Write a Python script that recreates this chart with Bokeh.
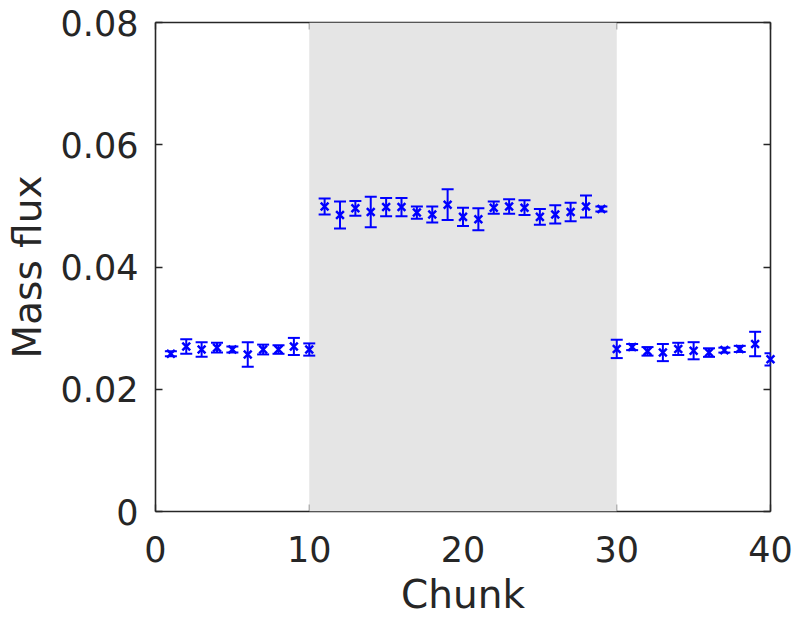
from bokeh.plotting import figure
from bokeh.models import (ColumnDataSource, Whisker, TeeHead, BoxAnnotation, LinearAxis,
                          FixedTicker, Range1d)
from bokeh.embed import file_html
from bokeh.resources import INLINE

chunk = list(range(1, 41))
flux = [0.0258, 0.0270, 0.0265, 0.0268, 0.0265, 0.0257, 0.0265, 0.0265, 0.0270, 0.0265,
        0.0499, 0.0485, 0.0496, 0.0490, 0.0498, 0.0498, 0.0489, 0.0486, 0.0502, 0.0482,
        0.0478, 0.0497, 0.0499, 0.0497, 0.0482, 0.0486, 0.0490, 0.0499, 0.0495,
        0.0266, 0.0269, 0.0262, 0.0260, 0.0266, 0.0263, 0.0260, 0.0264, 0.0266, 0.0274, 0.0249]
err = [0.0004, 0.0012, 0.0012, 0.0008, 0.0005, 0.0020, 0.0008, 0.0007, 0.0014, 0.0010,
       0.0013, 0.0022, 0.0012, 0.0025, 0.0015, 0.0015, 0.0010, 0.0013, 0.0025, 0.0015,
       0.0018, 0.0010, 0.0012, 0.0012, 0.0013, 0.0015, 0.0015, 0.0018, 0.0004,
       0.0015, 0.0005, 0.0007, 0.0014, 0.0010, 0.0014, 0.0007, 0.0004, 0.0005, 0.0020, 0.0010]
shade_start, shade_end = 10, 30
x_ticks = [0, 10, 20, 30, 40]
y_ticks = [0, 0.02, 0.04, 0.06, 0.08]
y_tick_labels = ["0", "0.02", "0.04", "0.06", "0.08"]

src = ColumnDataSource(dict(x=chunk, y=flux,
                            lo=[f - e for f, e in zip(flux, err)],
                            hi=[f + e for f, e in zip(flux, err)]))

FONT = "DejaVu Sans"
TXT = "#262626"

p = figure(width=795, height=619, output_backend="svg", toolbar_location=None,
           x_range=Range1d(0, 40), y_range=Range1d(0, 0.08),
           min_border_left=155, min_border_right=25, min_border_top=22, min_border_bottom=106)
p.outline_line_color = None
p.xgrid.visible = False
p.ygrid.visible = False
p.background_fill_color = "white"
p.border_fill_color = "white"

def style(ax):
    ax.axis_line_color = TXT
    ax.axis_line_width = 1.6
    ax.major_tick_in = 7
    ax.major_tick_out = 0
    ax.minor_tick_in = 0
    ax.minor_tick_out = 0
    ax.major_tick_line_color = TXT
    ax.major_tick_line_width = 1.3
    ax.major_label_text_font = FONT
    ax.major_label_text_font_size = "35px"
    ax.major_label_text_color = TXT
    ax.axis_label_text_font = FONT
    ax.axis_label_text_font_size = "39px"
    ax.axis_label_text_font_style = "normal"
    ax.axis_label_text_color = TXT

xa = p.xaxis[0]
xa.ticker = FixedTicker(ticks=x_ticks)
xa.axis_label = "Chunk"
xa.major_label_standoff = 24
xa.axis_label_standoff = 7
style(xa)

ya = p.yaxis[0]
ya.ticker = FixedTicker(ticks=y_ticks)
ya.major_label_overrides = {t: l for t, l in zip(y_ticks, y_tick_labels)}
ya.axis_label = "Mass flux"
ya.major_label_standoff = 17
ya.axis_label_standoff = 8
style(ya)

ra = LinearAxis(ticker=FixedTicker(ticks=y_ticks),
                major_label_overrides={t: "" for t in y_ticks})
style(ra)
ra.major_label_standoff = 0
p.add_layout(ra, "right")
ta = LinearAxis(ticker=FixedTicker(ticks=x_ticks),
                major_label_overrides={t: "" for t in x_ticks})
style(ta)
ta.major_label_standoff = 0
p.add_layout(ta, "above")

shade = BoxAnnotation(left=shade_start, right=shade_end, bottom=0, top=0.08,
                      fill_color="#e5e5e5", fill_alpha=1.0, line_color=None, level="annotation")
p.add_layout(shade)

w = Whisker(source=src, base="x", lower="lo", upper="hi", line_color="#0000ff", line_width=2,
            upper_head=TeeHead(size=12, line_color="#0000ff", line_width=2),
            lower_head=TeeHead(size=12, line_color="#0000ff", line_width=2),
            level="overlay")
p.add_layout(w)

r = p.scatter("x", "y", source=src, marker="x", size=11, line_color="#0000ff", line_width=2.5)
r.level = "overlay"

open("out.html", "w").write(file_html(p, INLINE))
